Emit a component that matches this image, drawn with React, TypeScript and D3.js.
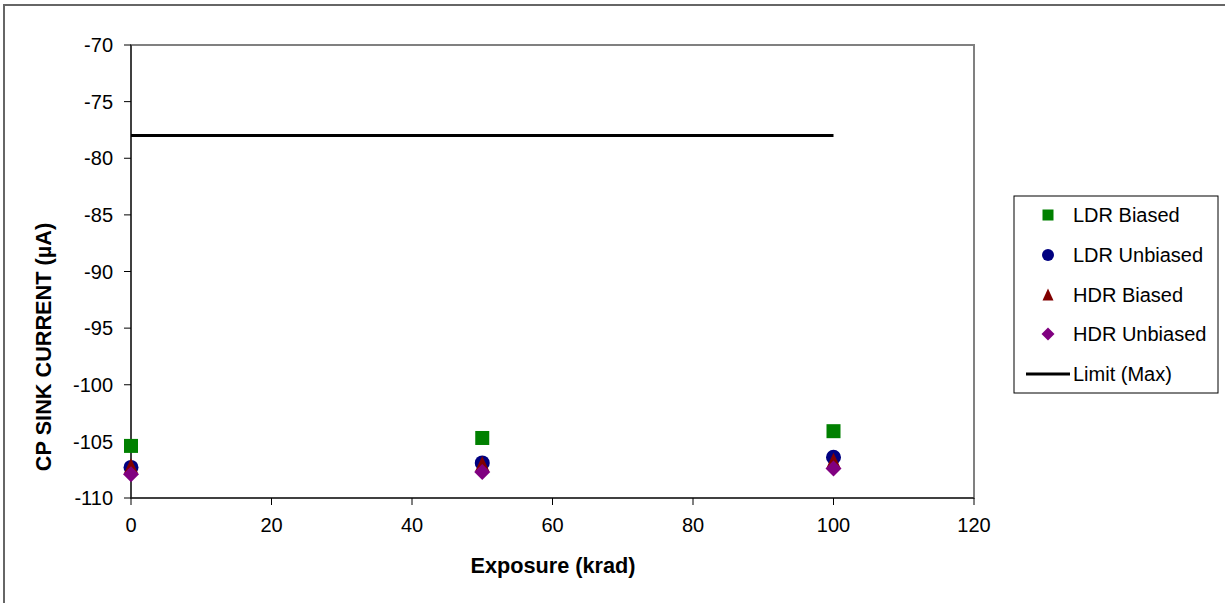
import React from "react";
import * as d3 from "d3";

const exposures = [0, 50, 100];
const ldrBiased = [-105.4, -104.7, -104.1];
const ldrUnbiased = [-107.3, -106.9, -106.4];
const hdrBiased = [-107.2, -107.0, -106.7];
const hdrUnbiased = [-107.9, -107.7, -107.4];
const limitX = [0, 100];
const limitValue = -78;
const xTicks = [0, 20, 40, 60, 80, 100, 120];
const yTicks = [-70, -75, -80, -85, -90, -95, -100, -105, -110];

const W = 1225;
const H = 603;
const plot = { left: 131, right: 974, top: 45, bottom: 498 };
const FONT = "'Liberation Sans', Arial, sans-serif";

type SymbolKind = "square" | "circle" | "triangle" | "diamond";

const series: { name: string; values: number[]; color: string; symbol: SymbolKind }[] = [
  { name: "LDR Biased", values: ldrBiased, color: "#008000", symbol: "square" },
  { name: "LDR Unbiased", values: ldrUnbiased, color: "#000080", symbol: "circle" },
  { name: "HDR Biased", values: hdrBiased, color: "#800000", symbol: "triangle" },
  { name: "HDR Unbiased", values: hdrUnbiased, color: "#800080", symbol: "diamond" },
];

function Marker({ kind, x, y, size, color }: { kind: SymbolKind; x: number; y: number; size: number; color: string }) {
  const h = size / 2;
  if (kind === "square") return <rect x={x - h} y={y - h} width={size} height={size} fill={color} />;
  if (kind === "circle") return <circle cx={x} cy={y} r={h + 0.5} fill={color} />;
  if (kind === "triangle")
    return <path d={`M${x},${y - h - 1}L${x + h},${y + h}L${x - h},${y + h}Z`} fill={color} />;
  return <path d={`M${x},${y - h - 1}L${x + h + 1},${y}L${x},${y + h + 1}L${x - h - 1},${y}Z`} fill={color} />;
}

export default function App() {
  const x = d3.scaleLinear().domain([0, 120]).range([plot.left, plot.right]);
  const y = d3.scaleLinear().domain([-110, -70]).range([plot.bottom, plot.top]);
  const legendY = [215, 255, 295, 334, 374];

  return (
    <svg width={W} height={H} style={{ position: "absolute", left: 0, top: 0, background: "#fff" }}>
      <rect x={4} y={5} width={W + 20} height={H + 20} fill="#fff" stroke="#666" strokeWidth={2} />
      {/* plot area frame */}
      <rect x={plot.left} y={plot.top} width={plot.right - plot.left} height={plot.bottom - plot.top}
        fill="none" stroke="#808080" strokeWidth={2} />
      {/* y axis */}
      <line x1={plot.left} x2={plot.left} y1={plot.top} y2={plot.bottom} stroke="#000" strokeWidth={1} />
      {yTicks.map((t) => (
        <g key={t}>
          <line x1={plot.left - 7} x2={plot.left} y1={y(t)} y2={y(t)} stroke="#000" />
          <text x={113} y={y(t)} dy="0.36em" textAnchor="end" fontFamily={FONT} fontSize={20} fill="#000">
            {t}
          </text>
        </g>
      ))}
      {/* x axis */}
      <line x1={plot.left} x2={plot.right} y1={plot.bottom} y2={plot.bottom} stroke="#000" strokeWidth={1} />
      {xTicks.map((t) => (
        <g key={t}>
          <line x1={x(t)} x2={x(t)} y1={plot.bottom} y2={plot.bottom + 7} stroke="#000" />
          <text x={x(t)} y={532} textAnchor="middle" fontFamily={FONT} fontSize={20} fill="#000">
            {t}
          </text>
        </g>
      ))}
      {/* limit line */}
      <path
        d={d3.line<number>().x((d) => x(d)).y(() => y(limitValue))(limitX) || ""}
        stroke="#000" strokeWidth={3} fill="none"
      />
      {/* data markers */}
      {series.map((s) =>
        s.values.map((v, i) => (
          <Marker key={s.name + i} kind={s.symbol} x={x(exposures[i])} y={y(v)} size={14} color={s.color} />
        ))
      )}
      {/* axis titles */}
      <text x={553} y={573} textAnchor="middle" fontFamily={FONT} fontSize={21.7} fontWeight="bold">
        Exposure (krad)
      </text>
      <text transform={`translate(51,347) rotate(-90)`} textAnchor="middle" fontFamily={FONT} fontSize={21.7} fontWeight="bold">
        CP SINK CURRENT (µA)
      </text>
      {/* legend */}
      <rect x={1014} y={196} width={204} height={197} fill="#fff" stroke="#000" strokeWidth={1} />
      {series.map((s, i) => (
        <g key={s.name}>
          <Marker kind={s.symbol} x={1048} y={legendY[i]} size={11} color={s.color} />
          <text x={1073} y={legendY[i]} dy="0.36em" fontFamily={FONT} fontSize={20}>
            {s.name}
          </text>
        </g>
      ))}
      <line x1={1026} x2={1070} y1={legendY[4]} y2={legendY[4]} stroke="#000" strokeWidth={3} />
      <text x={1073} y={legendY[4]} dy="0.36em" fontFamily={FONT} fontSize={20}>
        Limit (Max)
      </text>
    </svg>
  );
}
